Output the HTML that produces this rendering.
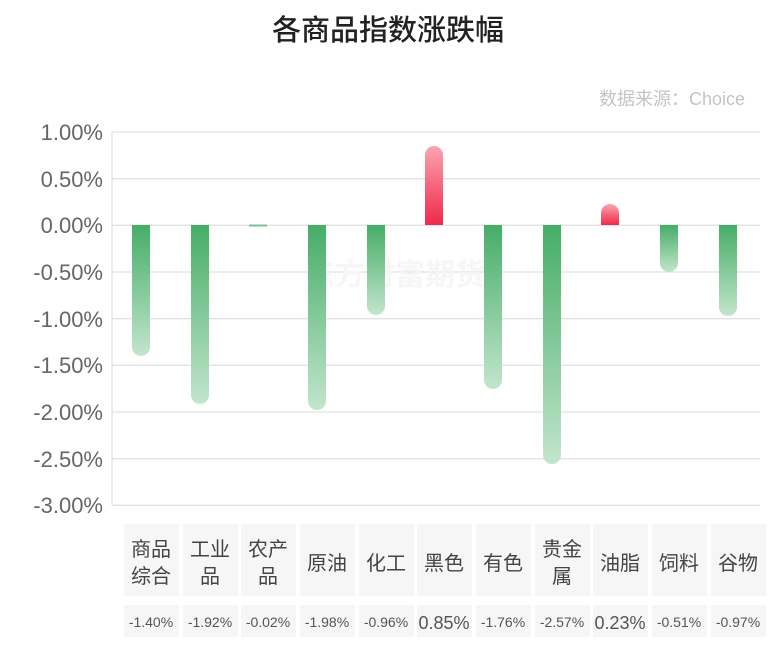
<!DOCTYPE html><html><head><meta charset="utf-8"><style>
body{margin:0;width:776px;height:655px;background:#fff;overflow:hidden;font-family:"Liberation Sans","Noto Sans CJK SC",sans-serif;}
</style></head><body>
<svg width="776" height="655" xmlns="http://www.w3.org/2000/svg" font-family="Liberation Sans, Noto Sans CJK SC, sans-serif">
<defs>
<linearGradient id="g" x1="0" y1="0" x2="0" y2="1"><stop offset="0" stop-color="#46ad68"/><stop offset="1" stop-color="#c2e5cc"/></linearGradient>
<linearGradient id="r" x1="0" y1="1" x2="0" y2="0"><stop offset="0" stop-color="#f0284a"/><stop offset="1" stop-color="#fba5b0"/></linearGradient>
</defs>
<text x="388" y="40" text-anchor="middle" font-size="29" fill="#222" font-family="Noto Sans CJK SC, sans-serif" font-weight="500">各商品指数涨跌幅</text>
<text x="745" y="105" text-anchor="end" font-size="18" fill="#c4c4c4">数据来源：Choice</text>
<g stroke="#e2e2e2" stroke-width="1.3">
<line x1="112" y1="132" x2="760" y2="132"/><line x1="112" y1="178.7" x2="760" y2="178.7"/><line x1="112" y1="225.3" x2="760" y2="225.3"/><line x1="112" y1="272" x2="760" y2="272"/><line x1="112" y1="318.7" x2="760" y2="318.7"/><line x1="112" y1="365.3" x2="760" y2="365.3"/><line x1="112" y1="412" x2="760" y2="412"/><line x1="112" y1="458.7" x2="760" y2="458.7"/><line x1="112" y1="505.3" x2="760" y2="505.3"/><line x1="112" y1="132" x2="112" y2="505"/>
</g>
<g font-size="22" fill="#666" text-anchor="end">
<text x="103" y="140">1.00%</text><text x="103" y="187">0.50%</text><text x="103" y="233">0.00%</text><text x="103" y="280">-0.50%</text><text x="103" y="327">-1.00%</text><text x="103" y="373">-1.50%</text><text x="103" y="420">-2.00%</text><text x="103" y="467">-2.50%</text><text x="103" y="513">-3.00%</text>
</g>
<text x="395" y="285" text-anchor="middle" font-size="30" fill="#f6f6f6" font-family="Noto Sans CJK SC, sans-serif" font-weight="bold">东方财富期货</text>
<g>
<path d="M132,225 h18 v122 a9,9 0 0 1 -18,0z" fill="url(#g)"/>
<path d="M191,225 h18 v170 a9,9 0 0 1 -18,0z" fill="url(#g)"/>
<rect x="249" y="224.5" width="18" height="2" fill="#7cc193"/>
<path d="M308,225 h18 v176 a9,9 0 0 1 -18,0z" fill="url(#g)"/>
<path d="M367,225 h18 v81 a9,9 0 0 1 -18,0z" fill="url(#g)"/>
<path d="M425,225 h18 v-70 a9,9 0 0 0 -18,0z" fill="url(#r)"/>
<path d="M484,225 h18 v155 a9,9 0 0 1 -18,0z" fill="url(#g)"/>
<path d="M543,225 h18 v230 a9,9 0 0 1 -18,0z" fill="url(#g)"/>
<path d="M601,225 h18 v-12 a9,9 0 0 0 -18,0z" fill="url(#r)"/>
<path d="M660,225 h18 v38 a9,9 0 0 1 -18,0z" fill="url(#g)"/>
<path d="M719,225 h18 v82 a9,9 0 0 1 -18,0z" fill="url(#g)"/>
</g>
<g fill="#f6f6f6">
<rect x="124" y="524" width="55" height="72"/><rect x="183" y="524" width="55" height="72"/><rect x="241" y="524" width="55" height="72"/><rect x="300" y="524" width="55" height="72"/><rect x="359" y="524" width="55" height="72"/><rect x="417" y="524" width="55" height="72"/><rect x="476" y="524" width="55" height="72"/><rect x="535" y="524" width="55" height="72"/><rect x="593" y="524" width="55" height="72"/><rect x="652" y="524" width="55" height="72"/><rect x="711" y="524" width="55" height="72"/>
<rect x="124" y="605" width="55" height="32"/><rect x="183" y="605" width="55" height="32"/><rect x="241" y="605" width="55" height="32"/><rect x="300" y="605" width="55" height="32"/><rect x="359" y="605" width="55" height="32"/><rect x="417" y="605" width="55" height="32"/><rect x="476" y="605" width="55" height="32"/><rect x="535" y="605" width="55" height="32"/><rect x="593" y="605" width="55" height="32"/><rect x="652" y="605" width="55" height="32"/><rect x="711" y="605" width="55" height="32"/>
</g>
<g font-size="20" fill="#444" text-anchor="middle" font-family="Noto Sans CJK SC, sans-serif">
<text x="151" y="556">商品</text><text x="151" y="583">综合</text>
<text x="210" y="556">工业</text><text x="210" y="583">品</text>
<text x="268" y="556">农产</text><text x="268" y="583">品</text>
<text x="327" y="570">原油</text><text x="386" y="570">化工</text><text x="444" y="570">黑色</text><text x="503" y="570">有色</text>
<text x="562" y="556">贵金</text><text x="562" y="583">属</text>
<text x="620" y="570">油脂</text><text x="679" y="570">饲料</text><text x="738" y="570">谷物</text>
</g>
<g font-size="14" fill="#555" text-anchor="middle">
<text x="151" y="627">-1.40%</text><text x="210" y="627">-1.92%</text><text x="268" y="627">-0.02%</text><text x="327" y="627">-1.98%</text><text x="386" y="627">-0.96%</text>
<text x="444" y="629" font-size="18">0.85%</text>
<text x="503" y="627">-1.76%</text><text x="562" y="627">-2.57%</text>
<text x="620" y="629" font-size="18">0.23%</text>
<text x="679" y="627">-0.51%</text><text x="738" y="627">-0.97%</text>
</g>
</svg>
</body></html>
